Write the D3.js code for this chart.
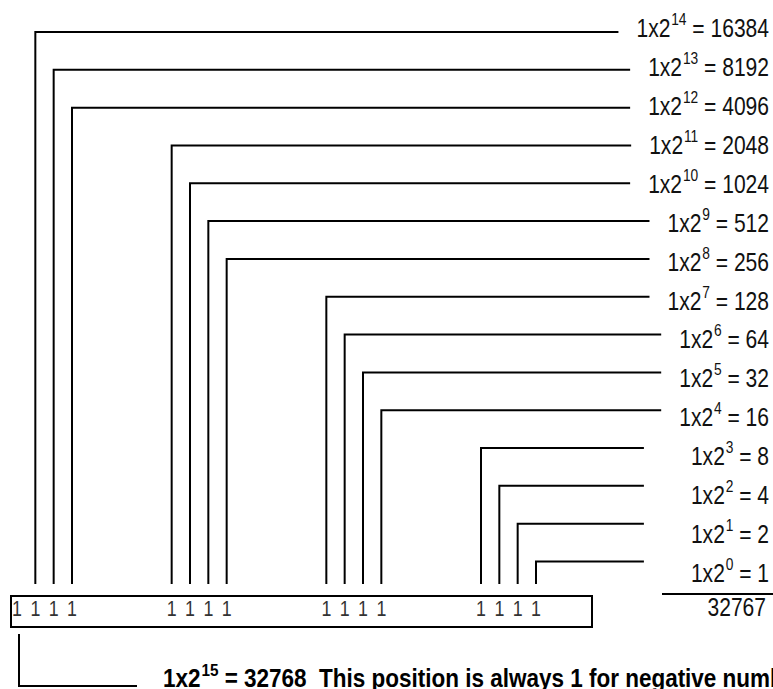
<!DOCTYPE html>
<html>
<head>
<meta charset="utf-8">
<script src="https://cdn.jsdelivr.net/npm/d3@7"></script>
<style>
  html, body { margin: 0; padding: 0; background: #fff; overflow: hidden; }
  svg { display: block; }
  text { font-family: "Liberation Sans", Arial, Helvetica, sans-serif; }
</style>
</head>
<body>
<svg id="chart" width="773" height="689"></svg>
<script>
// ---- data ----
const exponents   = [14, 13, 12, 11, 10, 9, 8, 7, 6, 5, 4, 3, 2, 1, 0];
const powerValues = [16384, 8192, 4096, 2048, 1024, 512, 256, 128, 64, 32, 16, 8, 4, 2, 1];
const boxBits     = [15, 14, 13, 12, 11, 10, 9, 8, 7, 6, 5, 4, 3, 2, 1, 0];
const boxDigits   = ["1","1","1","1","1","1","1","1","1","1","1","1","1","1","1","1"];
const totalValue  = 32767;
const signExponent = 15;
const signValue   = 32768;
const signNote    = "This position is always 1 for negative numbers";

// ---- layout ----
const W = 773, H = 689;
const svg = d3.select("#chart");
const condense = 0.81;      // horizontal squeeze to mimic a condensed face
const condenseBold = 0.9;

const nibbleX = d3.scaleLinear().domain([0, 3]).range([17, 481]);
const inNibbleX = d3.scaleLinear().domain([0, 3]).range([0, 55]);
const bitX = b => nibbleX(3 - Math.floor(b / 4)) + inNibbleX(3 - (b % 4));

const lineY = d3.scaleLinear().domain([14, 0]).range([32, 561.5]);
const textY = d3.scaleLinear().domain([14, 0]).range([37, 582]);

const labelRight = 769;
const lineBottom = 584;
const stroke = "#000", sw = 2;

const rows = exponents.map((e, i) => ({ e, v: powerValues[i] }));

// labels
const labelG = svg.append("g").selectAll("g").data(rows).join("g")
  .attr("transform", d => `translate(${labelRight},${textY(d.e)}) scale(${condense},1)`);
const labels = labelG.append("text")
  .attr("x", 0).attr("y", 0)
  .attr("text-anchor", "end")
  .attr("font-size", 26)
  .attr("fill", "#111");
labels.append("tspan").text("1x2");
labels.append("tspan").attr("font-size", 17).attr("dx", 1).attr("dy", -12).text(d => d.e);
labels.append("tspan").attr("dy", 12).text(d => " = " + d.v);

// connector lines
const lines = svg.append("g");
labels.each(function(d) {
  const bb = this.getBBox();
  const startX = labelRight + bb.x * condense;
  const gap = d.e < 4 ? 47 : 18;
  const x0 = bitX(d.e), y0 = lineY(d.e);
  lines.append("path")
    .attr("d", `M${x0},${lineBottom}V${y0}H${startX - gap}`)
    .attr("fill", "none").attr("stroke", stroke).attr("stroke-width", sw)
    .attr("stroke-linejoin", "miter");
});

// sum rule and total
svg.append("line").attr("x1", 662).attr("x2", W).attr("y1", 594).attr("y2", 594)
  .attr("stroke", stroke).attr("stroke-width", sw);
svg.append("g").attr("transform", `translate(766,616) scale(${condense},1)`)
  .append("text").attr("text-anchor", "end")
  .attr("font-size", 26).attr("fill", "#111").text(totalValue);

// register box
svg.append("rect").attr("x", 11).attr("y", 596).attr("width", 581).attr("height", 31)
  .attr("fill", "none").attr("stroke", stroke).attr("stroke-width", sw);
svg.append("g").selectAll("g").data(boxBits).join("g")
  .attr("transform", b => `translate(${bitX(b)},615.5) scale(${condense},1)`)
  .append("text")
  .attr("text-anchor", "middle").attr("font-size", 22).attr("fill", "#333")
  .text((b, i) => boxDigits[boxBits.indexOf(b)]);

// sign bit bracket
const sx = bitX(signExponent) + 2;
svg.append("path").attr("d", `M${sx},634V686H137`)
  .attr("fill", "none").attr("stroke", stroke).attr("stroke-width", sw);

const note = svg.append("g").attr("transform", `translate(163,686.5) scale(${condenseBold},1)`)
  .append("text")
  .attr("font-size", 25).attr("font-weight", "bold").attr("fill", "#000");
note.append("tspan").text("1x2");
note.append("tspan").attr("font-size", 17).attr("dx", 1).attr("dy", -11).text(signExponent);
note.append("tspan").attr("dy", 11).text(" = " + signValue + "\u00a0\u00a0" + signNote);
</script>
</body>
</html>
